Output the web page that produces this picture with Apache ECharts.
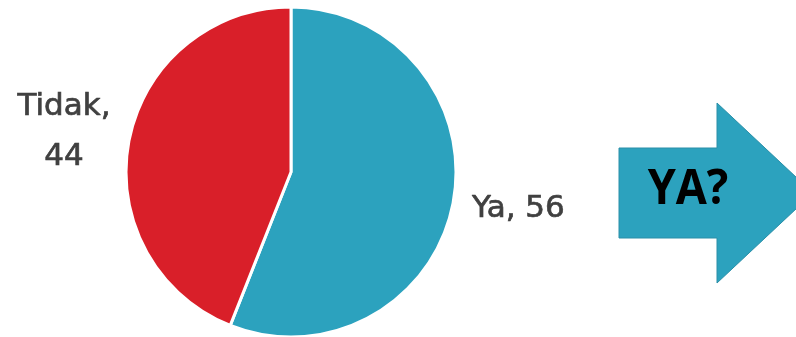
<!DOCTYPE html>
<html>
<head>
<meta charset="utf-8">
<script src="https://cdn.jsdelivr.net/npm/echarts@6/dist/echarts.min.js"></script>
<style>
  html, body { margin: 0; padding: 0; background: #ffffff; }
  #chart { width: 796px; height: 337px; }
</style>
</head>
<body>
<div id="chart"></div>
<script>
// Survey answers
const categories = ['Ya', 'Tidak'];
const values = [56, 44];
const sliceColors = ['#2ca2be', '#d91f29'];
const arrowText = 'YA?';

const chart = echarts.init(document.getElementById('chart'), null, { renderer: 'canvas' });

const labelFont = {
  fontFamily: 'DejaVu Sans',
  fontSize: 31,
  color: '#404040',
  textBorderColor: '#404040',
  textBorderWidth: 0.7,
  lineHeight: 50,
  overflow: 'none'
};

chart.setOption({
  animation: false,
  backgroundColor: '#ffffff',
  series: [{
    type: 'pie',
    center: [291, 172],
    radius: [0, 165],
    startAngle: 90,
    clockwise: true,
    data: categories.map((c, i) => ({
      name: c,
      value: values[i],
      itemStyle: { color: sliceColors[i] }
    })),
    itemStyle: { borderColor: '#ffffff', borderWidth: 3 },
    label: {
      show: true,
      position: 'outside',
      formatter: p => p.name === 'Tidak' ? p.name + ',\n' + p.value : p.name + ', ' + p.value,
      ...labelFont
    },
    labelLine: { show: false },
    labelLayout: params => {
      if (params.dataIndex === 0) {
        return { x: 472, y: 209, align: 'left', verticalAlign: 'middle' };
      }
      return { x: 64, y: 132, align: 'center', verticalAlign: 'middle' };
    }
  }],
  graphic: [{
    type: 'polygon',
    shape: {
      points: [[619, 148], [717, 148], [717, 103], [813, 193], [717, 283], [717, 238], [619, 238]]
    },
    style: { fill: '#2ca2be', stroke: '#2a8fa8', lineWidth: 1 },
    z: 10
  }, {
    type: 'text',
    x: 688,
    y: 190,
    scaleX: 0.92,
    style: {
      text: arrowText,
      fontFamily: 'Open Sans',
      fontWeight: 'bold',
      fontSize: 49,
      fill: '#000000',
      align: 'center',
      verticalAlign: 'middle'
    },
    z: 11
  }]
});
</script>
</body>
</html>
